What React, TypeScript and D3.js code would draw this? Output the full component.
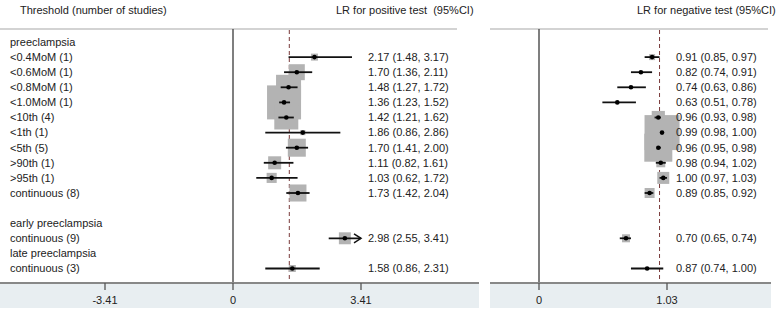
import React from "react";
import * as d3 from "d3";

// ---- data ----
const groupHeaders = ["preeclampsia", "early preeclampsia", "late preeclampsia"];
const thresholds = [
  "<0.4MoM (1)", "<0.6MoM (1)", "<0.8MoM (1)", "<1.0MoM (1)", "<10th (4)",
  "<1th (1)", "<5th (5)", ">90th (1)", ">95th (1)", "continuous (8)",
  "continuous (9)", "continuous (3)",
];
const thresholdGroup = [0, 0, 0, 0, 0, 0, 0, 0, 0, 0, 1, 2];

const lrPos = [2.17, 1.70, 1.48, 1.36, 1.42, 1.86, 1.70, 1.11, 1.03, 1.73, 2.98, 1.58];
const lrPosLo = [1.48, 1.36, 1.27, 1.23, 1.21, 0.86, 1.41, 0.82, 0.62, 1.42, 2.55, 0.86];
const lrPosHi = [3.17, 2.11, 1.72, 1.52, 1.62, 2.86, 2.00, 1.61, 1.72, 2.04, 3.41, 2.31];
const lrPosArrow = [false, false, false, false, false, false, false, false, false, false, true, false];
const weightPos = [1.3, 6.8, 16.6, 30.7, 15.3, 0.7, 8.6, 4.5, 2.7, 7.7, 3.8, 1.3];

const lrNeg = [0.91, 0.82, 0.74, 0.63, 0.96, 0.99, 0.96, 0.98, 1.00, 0.89, 0.70, 0.87];
const lrNegLo = [0.85, 0.74, 0.63, 0.51, 0.93, 0.98, 0.95, 0.94, 0.97, 0.85, 0.65, 0.74];
const lrNegHi = [0.97, 0.91, 0.86, 0.78, 0.98, 1.00, 0.98, 1.02, 1.03, 0.92, 0.74, 1.00];
const lrNegArrow = [false, false, false, false, false, false, false, false, false, false, false, false];
const weightNeg = [1.35, 0.3, 0.3, 0.3, 6.5, 45.9, 29.4, 3.0, 5.4, 3.75, 2.4, 0.3];

const pooledPos = 1.50;
const pooledNeg = 0.97;

const ticksPos = [-3.41, 0, 3.41];
const ticksNeg = [0, 1.03];

const headerLabel = "Threshold (number of studies)";
const headerPos = "LR for positive test  (95%CI)";
const headerNeg = "LR for negative test (95%CI)";

// ---- layout ----
const W = 778;
const H = 310;
const FONT = "'Liberation Sans', Arial, sans-serif";
const TEXT = "#222";

type Row = { kind: "header" | "item" | "blank"; label: string; i: number };

function buildRows(): Row[] {
  const rows: Row[] = [];
  let lastGroup = -1;
  thresholds.forEach((t, i) => {
    const g = thresholdGroup[i];
    if (g !== lastGroup) {
      if (lastGroup === 0) rows.push({ kind: "blank", label: "", i: -1 });
      rows.push({ kind: "header", label: groupHeaders[g], i: -1 });
      lastGroup = g;
    }
    rows.push({ kind: "item", label: t, i });
  });
  return rows;
}

const fmt = (v: number) => v.toFixed(2);

export default function App() {
  const rows = buildRows();
  const y = d3.scaleLinear().domain([0, rows.length - 1]).range([42, 268.5]);

  const xL = d3.scaleLinear().domain([-3.41, 3.41]).range([105, 361]);
  const xR = d3.scaleLinear().domain([0, 1.03]).range([539, 667]);

  const sPos = d3.scaleSqrt().domain([0, d3.max(weightPos)!]).range([0, 34]);
  const sNeg = d3.scaleSqrt().domain([0, d3.max(weightNeg)!]).range([0, 35]);

  const topY = 29;
  const axisY = 283;

  const panel = (
    x: d3.ScaleLinear<number, number>,
    est: number[], lo: number[], hi: number[], arrows: boolean[], wts: number[],
    size: d3.ScalePower<number, number>, pooled: number, ticks: number[],
    textX: number, key: string,
    lineX0: number, lineX1: number, axX0: number, axX1: number,
  ) => {
    const [dMin, dMax] = x.domain();
    const items = rows.map((r, idx) => ({ r, idx })).filter((d) => d.r.kind === "item");
    return (
      <g key={key}>
        <line x1={lineX0} x2={lineX1} y1={topY} y2={topY} stroke="#c4c4c4" strokeWidth={1.5} />
        <rect x={axX0} y={axisY} width={axX1 - axX0} height={H - axisY - 2} fill="#e8eef1" />
        {/* pooled line */}
        <line x1={x(pooled)} x2={x(pooled)} y1={topY + 1} y2={axisY} stroke="#7a3a3a" strokeWidth={1} strokeDasharray="4,3" />
        {/* boxes */}
        {items.map(({ r, idx }) => {
          const s = size(wts[r.i]);
          return <rect key={"b" + idx} x={x(est[r.i]) - s / 2} y={y(idx) - s / 2} width={s} height={s} fill="#b3b3b3" />;
        })}
        {/* CI lines */}
        {items.map(({ r, idx }) => {
          const a = Math.max(lo[r.i], dMin);
          const b = Math.min(hi[r.i], dMax);
          const yy = y(idx);
          const arrow = arrows[r.i];
          return (
            <g key={"c" + idx}>
              <line x1={x(a)} x2={x(b)} y1={yy} y2={yy} stroke="#111" strokeWidth={1.8} />
              {arrow && (
                <path d={`M${x(b) - 7},${yy - 4.5} L${x(b)},${yy} L${x(b) - 7},${yy + 4.5}`} fill="none" stroke="#111" strokeWidth={1.5} />
              )}
              <circle cx={x(est[r.i])} cy={yy} r={2.3} fill="#000" />
              <text x={textX} y={yy} dy="0.35em" fontSize={11} fontFamily={FONT} fill={TEXT}>
                {`${fmt(est[r.i])} (${fmt(lo[r.i])}, ${fmt(hi[r.i])})`}
              </text>
            </g>
          );
        })}
        {/* zero line */}
        <line x1={x(0)} x2={x(0)} y1={topY} y2={axisY} stroke="#555" strokeWidth={1.5} />
        {/* axis */}
        <line x1={axX0} x2={axX1} y1={axisY} y2={axisY} stroke="#888" strokeWidth={2} />
        {ticks.map((t) => (
          <g key={"t" + t}>
            <line x1={x(t)} x2={x(t)} y1={axisY} y2={axisY + 7} stroke="#555" strokeWidth={1.3} />
            <text x={x(t)} y={304} textAnchor="middle" fontSize={11} fontFamily={FONT} fill={TEXT}>
              {String(t)}
            </text>
          </g>
        ))}
      </g>
    );
  };

  return (
    <svg width={W} height={H} style={{ position: "absolute", left: 0, top: 0, background: "#fff" }}>
      <rect width={W} height={H} fill="#fff" />
      <text x={20} y={14} fontSize={11} fontFamily={FONT} fill={TEXT}>{headerLabel}</text>
      <text x={336} y={14} fontSize={11} fontFamily={FONT} fill={TEXT} style={{ whiteSpace: "pre" }}>{headerPos}</text>
      <text x={637} y={14} fontSize={11} fontFamily={FONT} fill={TEXT}>{headerNeg}</text>
      {rows.map((r, idx) =>
        r.kind === "blank" ? null : (
          <text key={"l" + idx} x={10} y={y(idx)} dy="0.35em" fontSize={11} fontFamily={FONT} fill={TEXT}>
            {r.label}
          </text>
        )
      )}
      {panel(xL, lrPos, lrPosLo, lrPosHi, lrPosArrow, weightPos, sPos, pooledPos, ticksPos, 368, "L", 0, 457, 0, 479)}
      {panel(xR, lrNeg, lrNegLo, lrNegHi, lrNegArrow, weightNeg, sNeg, pooledNeg, ticksNeg, 676, "R", 490, 768, 490, 771)}
    </svg>
  );
}
